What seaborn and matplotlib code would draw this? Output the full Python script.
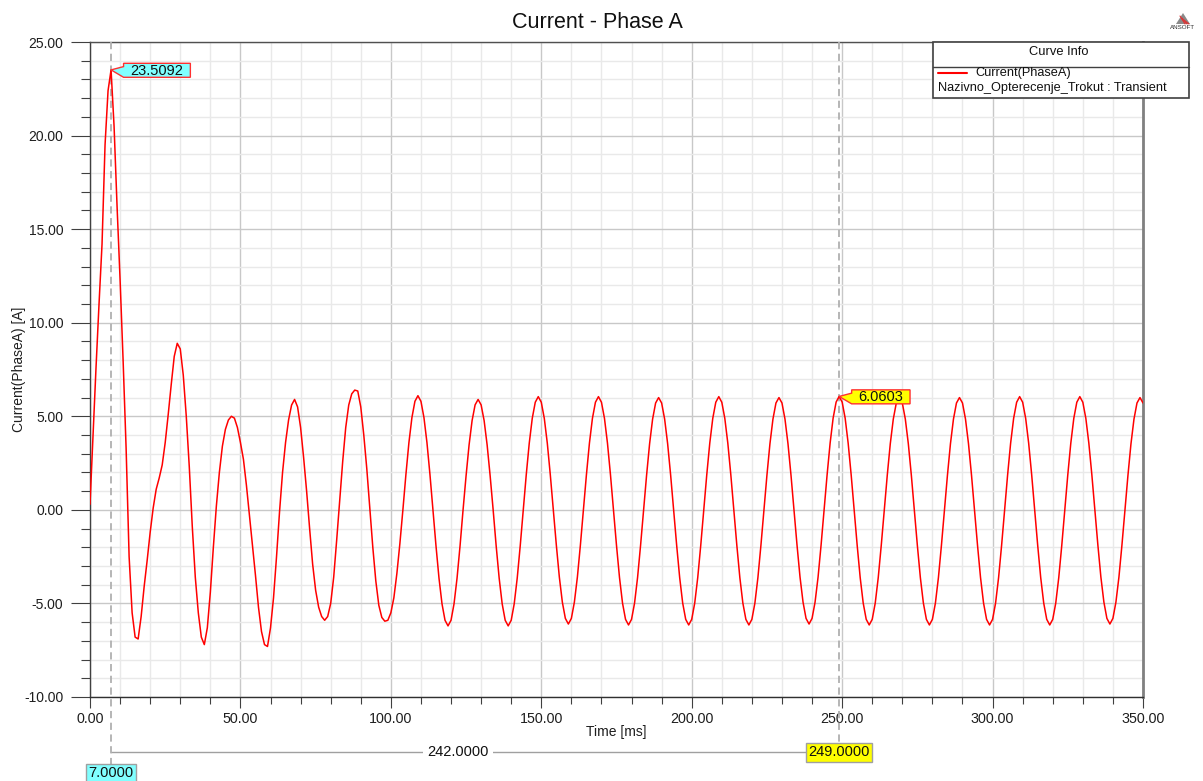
import numpy as np
import pandas as pd
import matplotlib
matplotlib.use("Agg")
import matplotlib.pyplot as plt
import matplotlib.transforms as mtransforms
from matplotlib.patches import Polygon, Rectangle
from matplotlib.lines import Line2D
from matplotlib.ticker import MultipleLocator, FormatStrFormatter
import seaborn as sns

# ---------------- data ----------------
time_ms = np.arange(0, 351, 1.0)          # sample grid, 1 ms
current_a = [
    0.3, 4.0, 7.6, 11.0, 14.2, 19.5, 22.4, 23.5092, 20.5, 16.2,          # 0-9
    12.3, 8.0, 3.3, -2.5, -5.5, -6.8, -6.9, -5.7, -4.1, -2.7,            # 10-19
    -1.2, 0.1, 1.1, 1.7, 2.4, 3.6, 5.1, 6.7, 8.2, 8.9,                   # 20-29
    8.6, 7.2, 5.0, 2.3, -0.9, -3.6, -5.5, -6.8, -7.2, -6.3,              # 30-39
    -4.4, -2.0, 0.2, 2.0, 3.4, 4.3, 4.8, 5.0, 4.9, 4.4,                  # 40-49
    3.6, 2.7, 1.3, -0.3, -1.9, -3.5, -5.2, -6.5, -7.2, -7.3,             # 50-59
    -6.3, -4.7, -2.5, -0.1, 2.0, 3.6, 4.8, 5.6, 5.9, 5.5,                # 60-69
    4.4, 2.8, 1.0, -1.0, -2.9, -4.3, -5.2, -5.7, -5.9, -5.7,             # 70-79
    -5.0, -3.6, -1.6, 0.5, 2.6, 4.4, 5.6, 6.2, 6.4, 6.35,                # 80-89
    5.5, 4.0, 2.2, 0.1, -2.0, -3.8, -5.1, -5.75, -5.95, -5.9,            # 90-99
    -5.5, -4.7, -3.4, -1.8, 0.0, 1.88, 3.59, 4.93, 5.80, 6.10,           # 100-109
    5.80, 4.93, 3.59, 1.88, 0.0, -1.92, -3.65, -5.02, -5.90, -6.20,      # 110-119
    -5.90, -5.02, -3.65, -1.92, 0.0, 1.82, 3.47, 4.77, 5.61, 5.90,       # 120-129
    5.61, 4.77, 3.47, 1.82, 0.0, -1.92, -3.65, -5.02, -5.90, -6.20,      # 130-139
    -5.90, -5.02, -3.65, -1.92, 0.0, 1.87, 3.56, 4.89, 5.75, 6.05,       # 140-149
    5.75, 4.89, 3.56, 1.87, 0.0, -1.88, -3.59, -4.93, -5.80, -6.10,      # 150-159
    -5.80, -4.93, -3.59, -1.88, 0.0, 1.87, 3.56, 4.89, 5.75, 6.05,       # 160-169
    5.75, 4.89, 3.56, 1.87, 0.0, -1.90, -3.62, -4.98, -5.85, -6.15,      # 170-179
    -5.85, -4.98, -3.62, -1.90, 0.0, 1.85, 3.53, 4.85, 5.71, 6.00,       # 180-189
    5.71, 4.85, 3.53, 1.85, 0.0, -1.90, -3.62, -4.98, -5.85, -6.15,      # 190-199
    -5.85, -4.98, -3.62, -1.90, 0.0, 1.87, 3.56, 4.89, 5.75, 6.05,       # 200-209
    5.75, 4.89, 3.56, 1.87, 0.0, -1.90, -3.62, -4.98, -5.85, -6.15,      # 210-219
    -5.85, -4.98, -3.62, -1.90, 0.0, 1.85, 3.53, 4.85, 5.71, 6.00,       # 220-229
    5.71, 4.85, 3.53, 1.85, 0.0, -1.88, -3.59, -4.93, -5.80, -6.10,      # 230-239
    -5.80, -4.93, -3.59, -1.88, 0.0, 1.87, 3.56, 4.90, 5.76, 6.0603,     # 240-249
    5.76, 4.90, 3.56, 1.87, 0.0, -1.90, -3.62, -4.98, -5.85, -6.15,      # 250-259
    -5.85, -4.98, -3.62, -1.90, 0.0, 1.85, 3.53, 4.85, 5.71, 6.00,       # 260-269
    5.71, 4.85, 3.53, 1.85, 0.0, -1.90, -3.62, -4.98, -5.85, -6.15,      # 270-279
    -5.85, -4.98, -3.62, -1.90, 0.0, 1.85, 3.53, 4.85, 5.71, 6.00,       # 280-289
    5.71, 4.85, 3.53, 1.85, 0.0, -1.90, -3.62, -4.98, -5.85, -6.15,      # 290-299
    -5.85, -4.98, -3.62, -1.90, 0.0, 1.87, 3.56, 4.89, 5.75, 6.05,       # 300-309
    5.75, 4.89, 3.56, 1.87, 0.0, -1.90, -3.62, -4.98, -5.85, -6.15,      # 310-319
    -5.85, -4.98, -3.62, -1.90, 0.0, 1.87, 3.56, 4.89, 5.75, 6.05,       # 320-329
    5.75, 4.89, 3.56, 1.87, 0.0, -1.88, -3.59, -4.93, -5.80, -6.10,      # 330-339
    -5.80, -4.93, -3.59, -1.88, 0.0, 1.85, 3.53, 4.85, 5.71, 6.00,       # 340-349
    5.71,                                                                # 350
]
marker_times = [7.0, 249.0]
marker_fill = ["#80ffff", "#ffff00"]
x_ticks = [0, 50, 100, 150, 200, 250, 300, 350]
y_ticks = [-10, -5, 0, 5, 10, 15, 20, 25]

title_text = "Current - Phase A"
x_label = "Time [ms]"
y_label = "Current(PhaseA) [A]"
legend_title = "Curve Info"
series_name = "Current(PhaseA)"
setup_name = "Nazivno_Opterecenje_Trokut : Transient"

# ---------------- style ----------------
sns.set_theme(style="white")
plt.rcParams["font.family"] = ["Liberation Sans", "DejaVu Sans"]

W, H = 1203, 781
fig = plt.figure(figsize=(W / 100, H / 100), dpi=100)
fig.patch.set_facecolor("white")
ax = fig.add_axes([90 / W, 1 - 697 / H, (1143 - 90) / W, (697 - 42) / H])
ax.set_facecolor("white")

def fx(px):
    return px / W

def fy(py):
    return 1 - py / H

df = pd.DataFrame({"Time": time_ms, "Current": current_a})
sns.lineplot(data=df, x="Time", y="Current", ax=ax, color="#ff0000",
             lw=1.1, estimator=None, legend=False, zorder=5)

ax.set_xlim(x_ticks[0], x_ticks[-1])
ax.set_ylim(y_ticks[0], y_ticks[-1])
ax.set_xticks(x_ticks)
ax.set_yticks(y_ticks)
ax.xaxis.set_minor_locator(MultipleLocator(10))
ax.yaxis.set_minor_locator(MultipleLocator(1))
ax.xaxis.set_major_formatter(FormatStrFormatter("%.2f"))
ax.yaxis.set_major_formatter(FormatStrFormatter("%.2f"))

ax.set_axisbelow(True)
ax.grid(which="minor", color="#e9e9e9", lw=1.0)
ax.grid(which="major", color="#c8c8c8", lw=1.0)

ax.tick_params(which="both", left=True, bottom=True, top=False, right=False,
               direction="out", color="#404040", width=0.8)
ax.tick_params(axis="y", which="major", length=13.7, pad=5.5,
               labelsize=10, labelcolor="#1e1e1e")
ax.tick_params(axis="y", which="minor", length=6.5)
ax.tick_params(axis="x", which="major", length=8, pad=2.5,
               labelsize=10.3, labelcolor="#1e1e1e")
ax.tick_params(axis="x", which="minor", length=5)

for side, col, lw in [("left", "#404040", 1.0), ("bottom", "#303030", 1.0),
                      ("top", "#505050", 1.0), ("right", "#808080", 2.0)]:
    ax.spines[side].set_visible(True)
    ax.spines[side].set_color(col)
    ax.spines[side].set_linewidth(lw)

ax.set_xlabel(x_label, fontsize=10, color="#1e1e1e")
ax.xaxis.set_label_coords(0.5, -0.0427)
ax.xaxis.label.set_va("top")
ax.set_ylabel(y_label, fontsize=10, color="#1e1e1e")
ax.yaxis.set_label_coords(-0.0608, 0.5)

fig.text(fx(597.5), fy(22), title_text, fontsize=15.5, ha="center",
         va="center", color="#101010")

# ---------------- markers ----------------
blend = mtransforms.blended_transform_factory(ax.transData, ax.transAxes)
times_arr = np.asarray(time_ms)
vals_arr = np.asarray(current_a)
marker_vals = [float(vals_arr[np.argmin(np.abs(times_arr - t))]) for t in marker_times]

line_bottoms = [-0.102, -0.070]
label_y = [-0.116, -0.0847]
for t, yb, ly, fc in zip(marker_times, line_bottoms, label_y, marker_fill):
    ax.plot([t, t], [1, yb], transform=blend, clip_on=False, color="#b0b0b0",
            lw=1.3, ls=(0, (4, 2.5)), zorder=4)
    ax.annotate(f"{t:.4f}", xy=(t, ly), xycoords=blend, ha="center",
                va="center", fontsize=10.5, color="#101010", zorder=9,
                annotation_clip=False,
                bbox=dict(boxstyle="square,pad=0.15", fc=fc, ec="#a0a0a0", lw=1))

# delta line between the markers
delta_y = -0.0844
ax.plot(marker_times, [delta_y, delta_y], transform=blend, clip_on=False,
        color="#a0a0a0", lw=1.0, zorder=3)
ax.annotate(f"{marker_times[1] - marker_times[0]:.4f}",
            xy=(sum(marker_times) / 2, delta_y), xycoords=blend,
            xytext=(-17, 0), textcoords="offset pixels", ha="center",
            va="center", fontsize=10.5, color="#101010", zorder=6,
            annotation_clip=False,
            bbox=dict(boxstyle="square,pad=0.3", fc="white", ec="none"))

# value callouts at the data points
for t, v, fc in zip(marker_times, marker_vals, marker_fill):
    label = f"{v:.4f}"
    tr = mtransforms.Affine2D() + mtransforms.ScaledTranslation(t, v, ax.transData)
    w = 8 + 8.4 * len(label)
    verts = [(0, 0), (12.5, 3.3), (12.5, 6.6), (12.5 + w, 6.6),
             (12.5 + w, -7.4), (12.5, -7.4)]
    ax.add_patch(Polygon(verts, closed=True, fc=fc, ec="#ff3030", lw=1.0,
                         transform=tr, clip_on=False, zorder=7))
    ax.text(12.5 + w / 2, -1.0, label, transform=tr, ha="center",
            va="center", fontsize=10.5, color="#101010", zorder=8,
            clip_on=False)

# ---------------- legend box ("Curve Info") ----------------
fig.add_artist(Rectangle((fx(933), fy(98.3)), (1189 - 933) / W, (98.3 - 41.7) / H,
                         transform=fig.transFigure, fc="white", ec="#404040",
                         lw=1.2, zorder=10))
fig.add_artist(Line2D([fx(933), fx(1189)], [fy(66.7), fy(66.7)],
                      transform=fig.transFigure, color="#404040", lw=1.0, zorder=11))
fig.add_artist(Line2D([fx(938), fx(967)], [fy(72.5), fy(72.5)],
                      transform=fig.transFigure, color="#ff0000", lw=1.5, zorder=11))
fig.text(fx(1059), fy(52), legend_title, ha="center", va="center",
         fontsize=9.3, color="#101010", zorder=12)
fig.text(fx(975), fy(73), series_name, ha="left", va="center",
         fontsize=9.2, color="#101010", zorder=12)
fig.text(fx(938), fy(88), setup_name, ha="left", va="center",
         fontsize=9.2, color="#101010", zorder=12)

# ---------------- small logo ----------------
fig.add_artist(Polygon([(fx(1183), fy(13)), (fx(1176), fy(24)), (fx(1190), fy(24))],
                       closed=True, transform=fig.transFigure, fc="#8a8a8a",
                       ec="none", zorder=10))
for k in range(3):
    fig.add_artist(Line2D([fx(1180 + 2 * k), fx(1185 + 2 * k)],
                          [fy(16 + 2 * k), fy(24)],
                          transform=fig.transFigure, color="#e03030", lw=0.8, zorder=11))
fig.text(fx(1183), fy(27.5), "ANSOFT", fontsize=4.5, ha="center", va="center",
         color="#303030")

fig.savefig("out.png", dpi=100)
